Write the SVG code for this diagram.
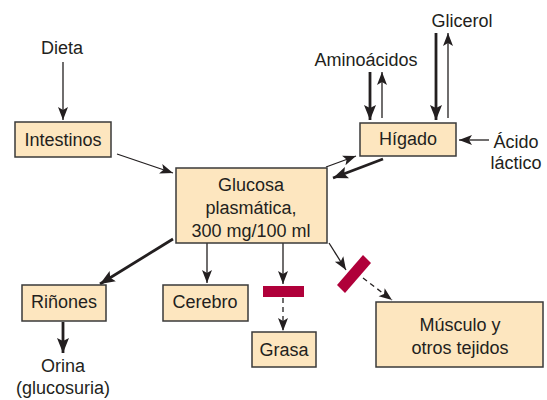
<svg xmlns="http://www.w3.org/2000/svg" width="547" height="400" viewBox="0 0 547 400">
<style>
.box{fill:#fde6bf;stroke:#3a3a3a;stroke-width:1.5}
text{font-family:"Liberation Sans",Arial,sans-serif;font-size:18px;fill:#231f20;text-anchor:middle}
.thin{stroke:#231f20;stroke-width:1.3;fill:none;marker-end:url(#ah)}
.thick{stroke:#231f20;stroke-width:2.8;fill:none;marker-end:url(#ahb)}
.dash{stroke:#231f20;stroke-width:1.3;fill:none;stroke-dasharray:5,4;marker-end:url(#ah)}
.blk{fill:#b0003a}
</style>
<defs>
<marker id="ah" markerUnits="userSpaceOnUse" markerWidth="14" markerHeight="12" refX="13" refY="5" orient="auto" viewBox="0 0 14 10">
<path d="M0,0 L13,5 L0,10 L3,5 z" fill="#231f20"/>
</marker>
<marker id="ahb" markerUnits="userSpaceOnUse" markerWidth="16" markerHeight="14" refX="15" refY="6" orient="auto" viewBox="0 0 16 12">
<path d="M0,0 L15,6 L0,12 L3,6 z" fill="#231f20"/>
</marker>
</defs>
<g id="connectors">
<line class="thin" x1="63" y1="62" x2="63" y2="120"/>
<line class="thin" x1="117" y1="154" x2="173" y2="173"/>
<line class="thin" x1="326" y1="167" x2="356" y2="156"/>
<line class="thick" x1="383" y1="159" x2="333" y2="178"/>
<line class="thick" x1="370" y1="72" x2="370" y2="120"/>
<line class="thin" x1="382" y1="118" x2="382" y2="72"/>
<line class="thick" x1="436" y1="33" x2="436" y2="120"/>
<line class="thin" x1="448" y1="118" x2="448" y2="33"/>
<line class="thin" x1="489" y1="140" x2="459" y2="140"/>
<line class="thick" x1="173" y1="239" x2="100" y2="284"/>
<line class="thin" x1="207" y1="243" x2="207" y2="283"/>
<line class="thin" x1="283" y1="243" x2="283" y2="284"/>
<line class="dash" x1="283" y1="298" x2="283" y2="331"/>
<line class="thin" x1="329" y1="243" x2="346" y2="270"/>
<line class="dash" x1="363" y1="278" x2="392" y2="300"/>
<line class="thick" x1="63" y1="322" x2="63" y2="353"/>
</g>
<g id="dieta"><text x="62" y="54">Dieta</text></g>
<g id="intestinos"><rect class="box" x="15" y="122" width="96" height="35"/><text x="63" y="146">Intestinos</text></g>
<g id="glucosa"><rect class="box" x="176" y="168" width="151" height="75"/><text x="251" y="191">Glucosa</text><text x="251" y="214">plasmática,</text><text x="251" y="237">300 mg/100 ml</text></g>
<g id="higado"><rect class="box" x="360" y="123" width="96" height="33"/><text x="408" y="145">Hígado</text></g>
<g id="aminoacidos"><text x="366" y="66">Aminoácidos</text></g>
<g id="glicerol"><text x="462" y="27">Glicerol</text></g>
<g id="acido"><text x="516" y="148">Ácido</text><text x="516" y="169">láctico</text></g>
<g id="rinones"><rect class="box" x="22" y="285" width="84" height="36"/><text x="64" y="308">Riñones</text></g>
<g id="cerebro"><rect class="box" x="163" y="285" width="85" height="36"/><text x="205" y="308">Cerebro</text></g>
<g id="bloqueo1"><rect class="blk" x="263" y="286" width="41" height="11"/></g>
<g id="grasa"><rect class="box" x="252" y="332" width="64" height="35"/><text x="284" y="356">Grasa</text></g>
<g id="bloqueo2"><polygon class="blk" points="337,285 345,293 371,263 363,255"/></g>
<g id="musculo"><rect class="box" x="376" y="302" width="167" height="65"/><text x="460" y="331">Músculo y</text><text x="460" y="354">otros tejidos</text></g>
<g id="orina"><text x="63" y="372">Orina</text><text x="63" y="394">(glucosuria)</text></g>
</svg>
